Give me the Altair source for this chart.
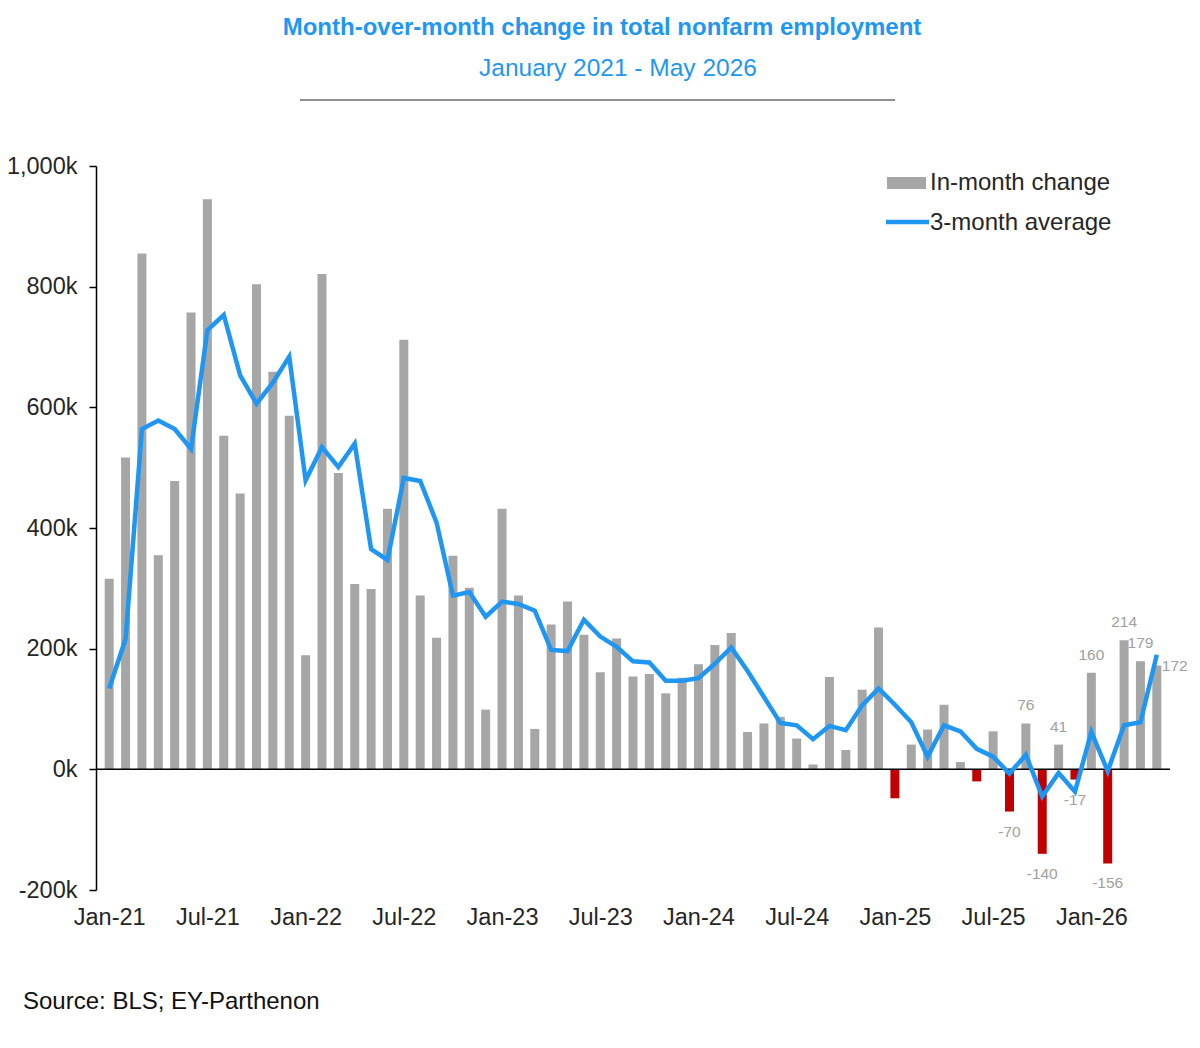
import json
import altair as alt
import pandas as pd

# ---------------- data ----------------
month_names = ["Jan", "Feb", "Mar", "Apr", "May", "Jun",
               "Jul", "Aug", "Sep", "Oct", "Nov", "Dec"]
years = ["21", "22", "23", "24", "25", "26"]
months = [f"{m}-{y}" for y in years for m in month_names][:65]

# In-month change (thousands)
in_month = [
    316, 517, 855, 355, 478, 757, 945, 553, 457, 804, 659, 586,   # 2021
    189, 821, 491, 307, 299, 432, 712, 288, 218, 354, 301, 99,    # 2022
    432, 288, 67, 240, 278, 223, 161, 217, 154, 158, 126, 152,    # 2023
    174, 206, 226, 62, 76, 87, 51, 8, 153, 32, 132, 235,          # 2024
    -48, 41, 66, 107, 12, -20, 63, -70, 76, -140, 41, -17,        # 2025
    160, -156, 214, 179, 172,                                     # 2026
]

# 3-month average (thousands)
avg3 = [
    134, 216, 564, 578, 564, 531, 728, 753, 653, 606, 641, 684,
    479, 534, 501, 540, 365, 347, 483, 478, 409, 288, 294, 253,
    278, 274, 263, 198, 196, 248, 220, 203, 179, 177, 147, 147,
    151, 175, 202, 163, 120, 77, 73, 50, 72, 65, 106, 134,
    107, 78, 21, 73, 63, 34, 21, -7, 24, -45, -6, -37,
    62, -3, 73, 78, 190,
]

axis_months = ["Jan-21", "Jul-21", "Jan-22", "Jul-22", "Jan-23", "Jul-23",
               "Jan-24", "Jul-24", "Jan-25", "Jul-25", "Jan-26"]
y_ticks = [-200, 0, 200, 400, 600, 800, 1000]
labelled_months = ["Aug-25", "Sep-25", "Oct-25", "Nov-25", "Dec-25",
                   "Jan-26", "Feb-26", "Mar-26", "Apr-26"]
side_labelled_months = ["May-26"]

title_text = "Month-over-month change in total nonfarm employment"
subtitle_text = "January 2021 - May 2026"
source_text = "Source: BLS; EY-Parthenon"
legend_bar = "In-month change"
legend_line = "3-month average"

df = pd.DataFrame({
    "i": list(range(len(months))),
    "month": months,
    "change": in_month,
    "avg": avg3,
})

# ---------------- styles ----------------
FONT = "Liberation Sans"
BLUE = "#1F97F2"
GRAY = "#A6A6A6"
RED = "#C00000"
TEXT = "#262626"
LBL = "#A0A0A0"

W, H = 1074, 724

x_enc = alt.X(
    "i:Q",
    scale=alt.Scale(domain=[-0.5, len(months) - 0.5], nice=False, zero=False),
    axis=alt.Axis(
        values=[months.index(m) for m in axis_months],
        labelExpr=json.dumps(months) + "[datum.value]",
        domain=False, ticks=False, grid=False,
        labelFlush=False, labelOverlap=False,
        labelFont=FONT, labelFontSize=23.5, labelColor=TEXT, labelPadding=15,
    ),
    title=None,
)


def y_enc(field):
    return alt.Y(
        field,
        scale=alt.Scale(domain=[-200, 1000], nice=False),
        axis=alt.Axis(
            values=y_ticks,
            labelExpr="(datum.value < 0 ? '-' : '') + format(abs(datum.value), ',') + 'k'",
            grid=False, domainColor="#000000", domainWidth=1.5,
            tickColor="#000000", tickWidth=1.5, tickSize=7,
            labelFont=FONT, labelFontSize=23.5, labelColor=TEXT, labelPadding=12,
        ),
        title=None,
    )


base = alt.Chart(df)

bars = base.mark_bar(size=9).encode(
    x=x_enc,
    y=y_enc("change:Q"),
    color=alt.condition("datum.change < 0", alt.value(RED), alt.value(GRAY)),
)

zero = alt.Chart(pd.DataFrame({"z": [0]})).mark_rule(
    color="#000000", strokeWidth=1.5
).encode(y=alt.datum(0))

line = base.mark_line(color=BLUE, strokeWidth=4.5, strokeJoin="miter").encode(
    x=x_enc, y=y_enc("avg:Q")
)

lbl_base = base.transform_calculate(
    lbl="(datum.change < 0 ? '-' : '') + abs(datum.change)"
)
pos_labels = lbl_base.transform_filter(
    alt.FieldOneOfPredicate(field="month", oneOf=labelled_months)
).transform_filter("datum.change >= 0").mark_text(
    font=FONT, fontSize=15.5, color=LBL, baseline="middle", dy=-18
).encode(x=x_enc, y=y_enc("change:Q"), text="lbl:N")

neg_labels = lbl_base.transform_filter(
    alt.FieldOneOfPredicate(field="month", oneOf=labelled_months)
).transform_filter("datum.change < 0").mark_text(
    font=FONT, fontSize=15.5, color=LBL, baseline="middle", dy=20
).encode(x=x_enc, y=y_enc("change:Q"), text="lbl:N")

side_labels = lbl_base.transform_filter(
    alt.FieldOneOfPredicate(field="month", oneOf=side_labelled_months)
).mark_text(
    font=FONT, fontSize=15.5, color=LBL, baseline="middle", align="left", dx=5
).encode(x=x_enc, y=y_enc("change:Q"), text="lbl:N")


def text_at(txt, x, y, **kw):
    return alt.Chart(pd.DataFrame({"t": [txt]})).mark_text(
        font=FONT, **kw
    ).encode(x=alt.value(x), y=alt.value(y), text="t:N")


one = pd.DataFrame({"a": [1]})

title = text_at(title_text, 506, -138, fontSize=24, fontWeight="bold",
                color=BLUE, align="center", baseline="middle")
subtitle = text_at(subtitle_text, 522, -97, fontSize=24.5, color=BLUE,
                   align="center", baseline="middle")
sep = alt.Chart(one).mark_rule(color="#222222", strokeWidth=1).encode(
    x=alt.value(204), x2=alt.value(799), y=alt.value(-66)
)
source = text_at(source_text, -73, 836, fontSize=24, color="#111111",
                 align="left", baseline="middle")

leg_rect = alt.Chart(one).mark_rect(color=GRAY).encode(
    x=alt.value(791), x2=alt.value(830), y=alt.value(11), y2=alt.value(23)
)
leg_rect_text = text_at(legend_bar, 834, 17, fontSize=24, color=TEXT,
                        align="left", baseline="middle")
leg_line = alt.Chart(one).mark_rule(color=BLUE, strokeWidth=4.5).encode(
    x=alt.value(790), x2=alt.value(833), y=alt.value(56)
)
leg_line_text = text_at(legend_line, 834, 57, fontSize=24, color=TEXT,
                        align="left", baseline="middle")

chart = alt.layer(
    bars, zero, line, pos_labels, neg_labels, side_labels,
    title, subtitle, sep, source,
    leg_rect, leg_rect_text, leg_line, leg_line_text,
).properties(
    width=W, height=H,
    padding={"left": 88, "top": 158, "right": 20, "bottom": 150},
    autosize=alt.AutoSizeParams(type="none"),
    background="white",
).configure_view(stroke=None)

chart.save("out.html", embed_options={"renderer": "svg", "actions": False})
